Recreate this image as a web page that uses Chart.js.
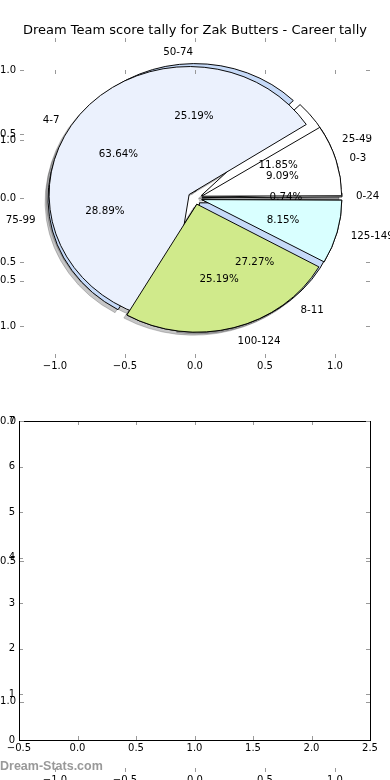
<!DOCTYPE html>
<html>
<head>
<meta charset="utf-8">
<script src="https://cdn.jsdelivr.net/npm/chart.js@4.4.1/dist/chart.umd.min.js"></script>
<style>
html, body { margin: 0; padding: 0; background: #fff; }
body { width: 390px; height: 780px; position: relative; overflow: hidden; }
canvas { position: absolute; left: 0; top: 0; }
#title { position: absolute; left: 0; top: 22px; width: 390px; text-align: center; font: 13px "DejaVu Sans"; line-height: 16px; color: #000; white-space: nowrap; }
#mark { position: absolute; left: 0; top: 759px; font: bold 12.5px "Liberation Sans"; line-height: 14px; color: #999; white-space: nowrap; }
</style>
</head>
<body>
<canvas id="shadowB" width="390" height="396" style="left:-3px;top:3px"></canvas>
<canvas id="shadowA" width="390" height="396" style="left:-3px;top:3px"></canvas>
<canvas id="pieB" width="390" height="396"></canvas>
<canvas id="pieA" width="390" height="396"></canvas>
<canvas id="pieBTop" width="390" height="396"></canvas>
<canvas id="axPie" width="390" height="780"></canvas>
<canvas id="axBar" width="390" height="780"></canvas>
<canvas id="axBig" width="390" height="820"></canvas>
<div id="title">Dream Team score tally for Zak Butters - Career tally</div>
<div id="mark">Dream-Stats.com</div>
<script>
// tally per score band
const bandLabels = ['0-3', '4-7', '8-11'];
const bandCounts = [1, 7, 3];
// tally per score range
const rangeLabels = ['0-24', '25-49', '50-74', '75-99', '100-124', '125-149'];
const rangeCounts = [1, 16, 34, 39, 34, 11];
// axis ticks
const pieTicks = [-1, -0.5, 0, 0.5, 1];
const barXTicks = [-0.5, 0, 0.5, 1, 1.5, 2, 2.5];
const barYTicks = [0, 1, 2, 3, 4, 5, 6, 7];

const bandColors = ['#ffffff', '#ebf1fd', '#c6daf8'];
const rangeColors = ['#ffffff', '#ffffff', '#c6daf8', '#c6daf8', '#d0ea8b', '#d9ffff'];
const topRanges = [4, 5]; // slices of the range pie drawn above the band pie

const RADIUS = 140;
const EXPLODE = 7;          // px, = 0.05 of the radius
const SQUASH = 128 / 140;   // pie axes are not square
const SHADOW = 'rgba(77,77,80,0.32)';

Chart.defaults.font.family = '"DejaVu Sans"';
Chart.defaults.font.size = 10;
Chart.defaults.color = '#000';

// pie drawn counter-clockwise and flattened like the matplotlib one
const ellipse = {
    id: 'ellipse',
    beforeDatasetsDraw(chart) {
        const a = chart.chartArea;
        const cx = (a.left + a.right) / 2, cy = (a.top + a.bottom) / 2;
        chart.ctx.save();
        chart.ctx.translate(cx, cy);
        chart.ctx.scale(1, -SQUASH);
        chart.ctx.translate(-cx, -cy);
    },
    afterDatasetsDraw(chart) {
        chart.ctx.restore();
    }
};

// chart.js grows thin slices when offset is set, undo that
const explodeFix = {
    id: 'explodeFix',
    afterUpdate(chart) {
        chart.getDatasetMeta(0).data.forEach(arc => {
            const fix = 1 - Math.sin(Math.min(Math.PI, arc.circumference || 0));
            arc.outerRadius = RADIUS - EXPLODE * fix;
        });
    }
};

function makePie(id, labels, values, colors, borders) {
    return new Chart(document.getElementById(id), {
        type: 'pie',
        data: {
            labels: labels,
            datasets: [{
                data: values,
                backgroundColor: colors,
                borderColor: borders,
                borderWidth: 1,
                offset: EXPLODE * 4
            }]
        },
        plugins: [ellipse, explodeFix],
        options: {
            responsive: false,
            animation: false,
            devicePixelRatio: 1,
            events: [],
            rotation: 90,
            radius: RADIUS,
            layout: { padding: 0 },
            plugins: { legend: { display: false }, tooltip: { enabled: false } }
        }
    });
}

function drawSliceText(chart, src, labels, values) {
    const ctx = chart.ctx;
    const total = values.reduce((s, v) => s + v, 0);
    ctx.save();
    ctx.font = '10.3px "DejaVu Sans"';
    ctx.fillStyle = '#000';
    ctx.textBaseline = 'middle';
    src.getDatasetMeta(0).data.forEach((arc, i) => {
        const mid = (arc.startAngle + arc.endAngle) / 2;
        const c = Math.cos(mid), s = Math.sin(mid);
        const at = d => [arc.x + c * d, arc.y - s * d * SQUASH + 1.5];
        let [x, y] = at(RADIUS * 1.1 + EXPLODE);
        ctx.textAlign = c > 0 ? 'left' : 'right';
        ctx.fillText(labels[i], x, y);
        [x, y] = at(RADIUS * 0.6 + EXPLODE);
        ctx.textAlign = 'center';
        ctx.fillText((values[i] / total * 100).toFixed(2) + '%', x, y);
    });
    ctx.restore();
}

// shadows first, then range pie, band pie, and the last two range slices
const shadowFill = rangeCounts.map(() => SHADOW);
makePie('shadowB', rangeLabels, rangeCounts, shadowFill, shadowFill);
makePie('shadowA', bandLabels, bandCounts, bandCounts.map(() => SHADOW), bandCounts.map(() => SHADOW));
const rangePie = makePie('pieB', rangeLabels, rangeCounts, rangeColors, rangeColors.map(() => '#000'));
const bandPie = makePie('pieA', bandLabels, bandCounts, bandColors, bandColors.map(() => '#000'));
const topPie = makePie('pieBTop', rangeLabels, rangeCounts,
    rangeColors.map((c, i) => topRanges.includes(i) ? c : 'rgba(0,0,0,0)'),
    rangeColors.map((c, i) => topRanges.includes(i) ? '#000' : 'rgba(0,0,0,0)'));
drawSliceText(topPie, rangePie, rangeLabels, rangeCounts);
drawSliceText(topPie, bandPie, bandLabels, bandCounts);

// small inward ticks on all four sides, optional black frame
const frameTicks = {
    id: 'frameTicks',
    afterDraw(chart, args, opts) {
        const { ctx, chartArea: a, scales: { x, y } } = chart;
        ctx.save();
        ctx.strokeStyle = '#999';
        ctx.lineWidth = 1;
        ctx.beginPath();
        x.ticks.forEach(t => {
            const px = Math.round(x.getPixelForValue(t.value)) + 0.5;
            ctx.moveTo(px, a.top); ctx.lineTo(px, a.top + 4);
            ctx.moveTo(px, a.bottom); ctx.lineTo(px, a.bottom - 4);
        });
        y.ticks.forEach(t => {
            const py = Math.round(y.getPixelForValue(t.value)) + 0.5;
            ctx.moveTo(a.left, py); ctx.lineTo(a.left + 4, py);
            ctx.moveTo(a.right, py); ctx.lineTo(a.right - 4, py);
        });
        ctx.stroke();
        if (opts.frame) {
            ctx.strokeStyle = '#000';
            ctx.strokeRect(Math.round(a.left) + 0.5, Math.round(a.top) + 0.5,
                Math.round(a.right - a.left), Math.round(a.bottom - a.top));
        }
        ctx.restore();
    }
};

const signed = v => (v < 0 ? '\u2212' : '') + Math.abs(v).toFixed(1);

function makeAxes(id, box, xRange, xTicks, xFmt, yRange, yTicks, yFmt, frame) {
    const cv = document.getElementById(id);
    return new Chart(cv, {
        type: 'scatter',
        data: { datasets: [{ data: [] }] },
        plugins: [frameTicks],
        options: {
            responsive: false,
            animation: false,
            devicePixelRatio: 1,
            events: [],
            layout: { padding: { left: 0, top: box.top, right: cv.width - box.right, bottom: cv.height - box.bottom - 20 } },
            plugins: { legend: { display: false }, tooltip: { enabled: false }, frameTicks: { frame: frame } },
            scales: {
                x: {
                    type: 'linear', bounds: 'data', min: xRange[0], max: xRange[1],
                    grid: { display: false, drawTicks: false }, border: { display: false },
                    afterBuildTicks: s => { s.ticks = xTicks.map(v => ({ value: v })); },
                    afterFit: s => { s.height = 20; },
                    ticks: { padding: 2, autoSkip: false, maxRotation: 0, callback: xFmt }
                },
                y: {
                    type: 'linear', bounds: 'data', min: yRange[0], max: yRange[1],
                    grid: { display: false, drawTicks: false }, border: { display: false },
                    afterBuildTicks: s => { s.ticks = yTicks.map(v => ({ value: v })); },
                    afterFit: s => { s.width = box.left; },
                    ticks: { padding: 4, autoSkip: false, callback: yFmt }
                }
            }
        }
    });
}

makeAxes('axPie', { left: 20, right: 370, top: 38, bottom: 358 },
    [-1.25, 1.25], pieTicks, signed, [-1.25, 1.25], pieTicks, signed, false);
makeAxes('axBar', { left: 19, right: 370, top: 421, bottom: 740 },
    [-0.5, 2.5], barXTicks, signed, [0, 7], barYTicks, v => String(v), true);
makeAxes('axBig', { left: 20, right: 370, top: 70, bottom: 772 },
    [-1.25, 1.25], pieTicks, signed, [-1.25, 1.25], pieTicks, signed, false);
</script>
</body>
</html>
